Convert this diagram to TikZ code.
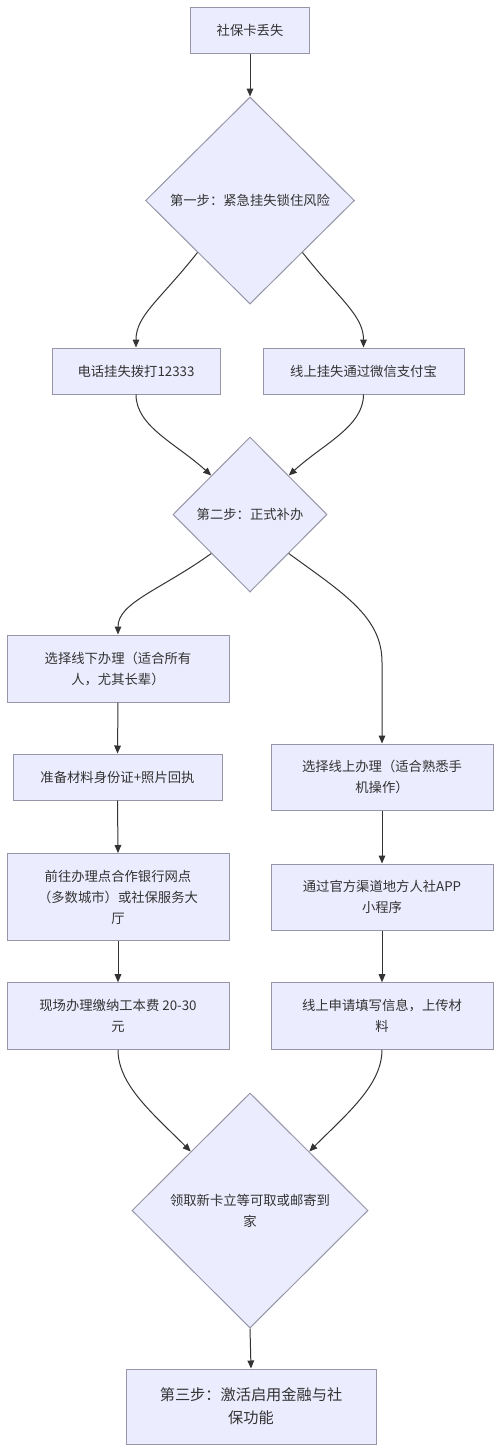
\documentclass[tikz,border=0pt]{standalone}
\usepackage{fontspec}
\setmainfont{Noto Sans CJK SC}
\usetikzlibrary{shapes.geometric,arrows.meta}
\definecolor{boxfill}{HTML}{ECECFF}
\definecolor{boxline}{RGB}{150,150,168}
\definecolor{txt}{HTML}{333333}
\definecolor{edge}{HTML}{333333}
\tikzset{
  base/.style={draw=boxline, fill=boxfill, line width=0.75pt, text=txt,
    font=\fontsize{10pt}{15.75pt}\selectfont, align=center, inner sep=0pt},
  procbox/.style={base, rectangle},
  decbox/.style={base, diamond},
  arr/.style={draw=edge, line width=0.75pt, -{Triangle[length=6pt,width=5pt]}}
}
\begin{document}
\begin{tikzpicture}[x=0.75pt,y=-0.75pt]
\useasboundingbox (0,0) rectangle (500,1446);
\fill[white] (0,0) rectangle (500,1446);

\node[procbox, minimum width=89.25pt, minimum height=34.5pt] (n1) at (250,30) {社保卡丢失};
\node[decbox, minimum width=156.75pt, minimum height=155.25pt] (d1) at (250,200.5) {第一步：紧急挂失锁住风险};
\node[procbox, minimum width=126pt, minimum height=34.5pt] (n2) at (136,371) {电话挂失拨打12333};
\node[procbox, minimum width=150.75pt, minimum height=34.5pt] (n3) at (363.5,371) {线上挂失通过微信支付宝};
\node[decbox, minimum width=115.5pt, minimum height=116.25pt] (d2) at (250,514.5) {第二步：正式补办};
\node[procbox, minimum width=166.5pt, minimum height=50.25pt] (n4) at (118,668.5) {选择线下办理（适合所有\\人，尤其长辈）};
\node[procbox, minimum width=156.75pt, minimum height=34.5pt] (n5) at (117.5,777) {准备材料身份证+照片回执};
\node[procbox, minimum width=166.5pt, minimum height=49.5pt] (n6) at (382,777) {选择线上办理（适合熟悉手\\机操作）};
\node[procbox, minimum width=166.5pt, minimum height=65.25pt] (n7) at (118,897) {前往办理点合作银行网点\\（多数城市）或社保服务大\\厅};
\node[procbox, minimum width=166.5pt, minimum height=49.5pt] (n8) at (382,897) {通过官方渠道地方人社APP\\小程序};
\node[procbox, minimum width=166.5pt, minimum height=49.9pt] (n9) at (118,1016) {现场办理缴纳工本费 20-30\\元};
\node[procbox, minimum width=166.5pt, minimum height=49.9pt] (n10) at (382,1016) {线上申请填写信息，上传材\\料};
\node[decbox, minimum width=177pt, minimum height=176.25pt] (d3) at (250,1210.5) {领取新卡立等可取或邮寄到\\家};
\node[procbox, minimum width=187.5pt, minimum height=56.25pt, font=\fontsize{11.4pt}{17.25pt}\selectfont] (n11) at (251,1406.5) {第三步：激活启用金融与社\\保功能};

\coordinate (k1) at (382,662);

\draw[arr] (n1.south) -- (d1.north);
\draw[arr] (d1.south west) .. controls +(-38,48) and +(0,-32) .. (n2.north);
\draw[arr] (d1.south east) .. controls +(38,48) and +(0,-32) .. (n3.north);
\draw[arr] (n2.south) .. controls +(0,32) and +(-35,-32) .. (d2.north west);
\draw[arr] (n3.south) .. controls +(0,32) and +(35,-32) .. (d2.north east);
\draw[arr] (d2.south west) .. controls +(-50,36) and +(0,-32) .. (n4.north);
\draw[arr] (d2.south east) .. controls +(55,40) and +(0,-45) .. (k1) -- (n6.north);
\draw[arr] (n4.south) -- (n5.north);
\draw[arr] (n5.south) -- (n7.north);
\draw[arr] (n7.south) -- (n9.north);
\draw[arr] (n6.south) -- (n8.north);
\draw[arr] (n8.south) -- (n10.north);
\draw[arr] (n9.south) .. controls +(0,35) and +(-38,-38) .. (d3.north west);
\draw[arr] (n10.south) .. controls +(0,35) and +(38,-38) .. (d3.north east);
\draw[arr] (d3.south) -- (n11.north);
\end{tikzpicture}
\end{document}
